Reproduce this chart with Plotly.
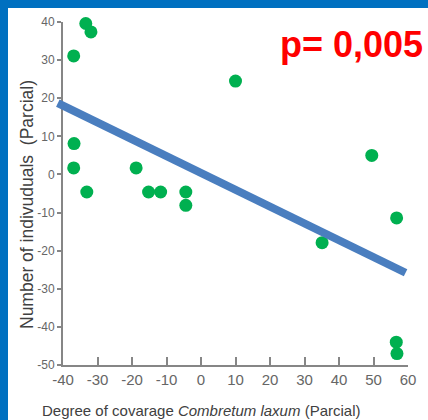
import plotly.graph_objects as go

# Data
cover_x = [-33.4, -31.9, -36.9, 10.0, -36.8, -36.9, -33.1, -18.8, -15.2, -11.7,
           -4.4, -4.4, 35.1, 49.5, 56.7, 56.6, 56.8]
individuals_y = [39.6, 37.4, 31.1, 24.5, 8.1, 1.7, -4.6, 1.7, -4.6, -4.6,
                 -4.6, -8.1, -17.9, 5.0, -11.4, -44.0, -47.0]
fit_x = [-41.5, 59.3]
fit_y = [18.7, -25.8]

x_ticks = [-40, -30, -20, -10, 0, 10, 20, 30, 40, 50, 60]
x_ticktext = ["-40", "-30", "-20", "-10", "0", "10", "20", "30", "40", "50", "60"]
y_ticks = [40, 30, 20, 10, 0, -10, -20, -30, -40, -50]
y_ticktext = ["40", "30", "20", "10", "0", "-10", "-20", "-30", "-40", "-50"]

p_text = "p= 0,005"
x_title = "Degree of covarage <i>Combretum laxum</i> (Parcial)"
y_title = "Number of indivuduals  (Parcial)"

# layout geometry (pixels)
L, R, T, B = 55, 20, 22, 55
W = 428 - L - R
H = 420 - T - B
axis_left_px = 63
px_per_unit = (W - (axis_left_px - L)) / 100.0
x2_left = -40 - (axis_left_px - L) / px_per_unit

def xp(px):
    return (px - L) / W

def yp(py):
    return (420 - B - py) / H

axis_grey = "#868686"
label_grey = "#666666"
title_col = "#404040"

fig = go.Figure()
fig.add_trace(go.Scatter(
    x=fit_x, y=fit_y, mode="lines", xaxis="x2", yaxis="y",
    line=dict(color="#4A7EBF", width=8), hoverinfo="skip", showlegend=False))
fig.add_trace(go.Scatter(
    x=cover_x, y=individuals_y, mode="markers",
    marker=dict(color="#00B050", size=13, line=dict(width=0)),
    cliponaxis=False, showlegend=False))

fig.update_layout(
    width=428, height=420,
    margin=dict(l=L, r=R, t=T, b=B, pad=0),
    paper_bgcolor="#0070C0",
    plot_bgcolor="rgba(0,0,0,0)",
    showlegend=False,
    xaxis=dict(
        domain=[(axis_left_px - L) / W, 1], range=[-40, 60],
        tickvals=x_ticks, ticktext=x_ticktext,
        showline=True, linecolor=axis_grey, linewidth=2,
        ticks="inside", ticklen=8, tickwidth=2, tickcolor=axis_grey,
        showgrid=False, zeroline=False, anchor="y",
        tickfont=dict(family="Liberation Sans Narrow, Liberation Sans, Arial", size=15, color=label_grey),
    ),
    xaxis2=dict(
        domain=[0, 1], range=[x2_left, 60], anchor="y",
        visible=False, showgrid=False, zeroline=False,
    ),
    yaxis=dict(
        domain=[0, 1], range=[-50, 40], anchor="x",
        tickvals=y_ticks, ticktext=y_ticktext,
        showline=True, linecolor=axis_grey, linewidth=2,
        ticks="outside", ticklen=4, tickwidth=2, tickcolor=axis_grey,
        showgrid=False, zeroline=False,
        tickfont=dict(family="Liberation Sans, Arial", size=12, color=label_grey),
    ),
    shapes=[dict(type="rect", xref="paper", yref="paper",
                 x0=xp(8), x1=xp(440), y0=yp(430), y1=yp(8),
                 fillcolor="white", line=dict(width=0), layer="below")],
    annotations=[
        dict(text=p_text, xref="paper", yref="paper", x=xp(351), y=yp(44),
             xanchor="center", yanchor="middle", showarrow=False,
             font=dict(family="Liberation Sans, Arial", size=36, color="#FF0000", weight="bold")),
        dict(text=y_title, xref="paper", yref="paper", x=xp(27), y=yp(205),
             xanchor="center", yanchor="middle", showarrow=False, textangle=-90,
             font=dict(family="Liberation Sans, Arial", size=17.5, color=title_col)),
        dict(text=x_title, xref="paper", yref="paper", x=xp(201), y=yp(410),
             xanchor="center", yanchor="middle", showarrow=False,
             font=dict(family="Liberation Sans, Arial", size=15, color=title_col)),
    ],
)

fig.write_html("out.html")
